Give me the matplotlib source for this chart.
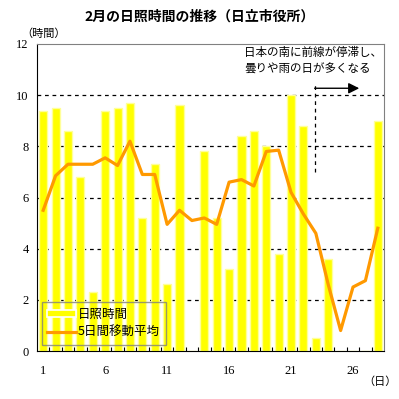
import numpy as np
import matplotlib
matplotlib.use('Agg')
import matplotlib.pyplot as plt

plt.rcParams['font.family'] = ['Noto Sans CJK JP', 'DejaVu Sans']

# 日ごとの日照時間 (時間)
days = list(range(1, 29))
sunshine = [9.4, 9.5, 8.6, 6.8, 2.3, 9.4, 9.5, 9.7, 5.2, 7.3,
            2.6, 9.6, 0.0, 7.8, 5.2, 3.2, 8.4, 8.6, 8.0, 3.8,
            10.0, 8.8, 0.5, 3.6, 0.0, 0.0, 0.0, 9.0]
# 5日間移動平均
moving_avg = [5.5, 6.85, 7.3, 7.3, 7.3, 7.55, 7.25, 8.2, 6.9, 6.9,
              4.95, 5.5, 5.1, 5.2, 4.95, 6.6, 6.7, 6.45, 7.8, 7.85,
              6.2, 5.35, 4.6, 2.6, 0.8, 2.5, 2.75, 4.8]
xtick_days = [1, 6, 11, 16, 21, 26]
yticks = [0, 2, 4, 6, 8, 10, 12]

fig = plt.figure(figsize=(3.99, 3.99), dpi=100)
ax = fig.add_axes([37 / 399, 48 / 399, 347 / 399, 307 / 399])

# グリッド
for y in yticks[1:-1]:
    ax.axhline(y, color='black', lw=0.9, ls=(0, (3, 3)), zorder=1)

bars = ax.bar(days, sunshine, width=0.65, color='#FFFF00', edgecolor='#FFFF99',
              lw=1, zorder=2, label='日照時間')
line, = ax.plot(days, moving_avg, color='#FF9900', lw=2.3, zorder=3,
                label='5日間移動平均')

ax.set_xlim(0.5, 28.5)
ax.set_ylim(0, 12)
ax.set_yticks(yticks)
ax.set_xticks(xtick_days)
ax.set_xticks(np.arange(1.5, 28.5, 1), minor=True)
ax.tick_params(axis='y', length=0, pad=6)
ax.tick_params(axis='x', which='major', length=0, pad=10)
ax.tick_params(axis='x', which='minor', direction='in', length=3, width=0.8)
for lab in ax.get_xticklabels() + ax.get_yticklabels():
    lab.set_family(['Liberation Serif'])
    lab.set_fontsize(9)

for s in ['top', 'right']:
    ax.spines[s].set_color('#808080')
for s in ['left', 'bottom']:
    ax.spines[s].set_color('black')

# 前線停滞の注記
ax.plot([22.9, 22.9], [7.0, 10.5], color='black', lw=0.9, ls=(0, (3, 3)), zorder=4)
ax.annotate('', xy=(26.5, 10.27), xytext=(22.9, 10.27),
            arrowprops=dict(arrowstyle='-|>', color='black', lw=1,
                            mutation_scale=16, shrinkA=0, shrinkB=0))
ax.text(17.2, 11.34, '日本の南に前線が停滞し、\n曇りや雨の日が多くなる',
        ha='left', va='center', fontsize=8.3, linespacing=1.3)

bar_handle = plt.Rectangle((0, 0), 1, 1, facecolor='#FFFF00', edgecolor='white', lw=1.2)
leg = ax.legend([bar_handle, line], ['日照時間', '5日間移動平均'],
                loc='lower left', bbox_to_anchor=(0.014, 0.02),
                borderaxespad=0, fancybox=False, fontsize=9,
                handlelength=2.3, handleheight=0.5, handletextpad=0.15,
                borderpad=0.45, labelspacing=0.45)
leg.get_frame().set_edgecolor('#808080')
leg.get_frame().set_facecolor('none')
leg.get_frame().set_linewidth(1)

fig.text(0.5, 1 - 17 / 399, '2月の日照時間の推移（日立市役所）',
         ha='center', va='center', fontsize=10, fontweight='bold')
fig.text(44 / 399, 1 - 34 / 399, '（時間）', ha='center', va='center', fontsize=8)
fig.text(380 / 399, 1 - 382 / 399, '（日）', ha='center', va='center', fontsize=8)

fig.savefig('out.png', dpi=100)
